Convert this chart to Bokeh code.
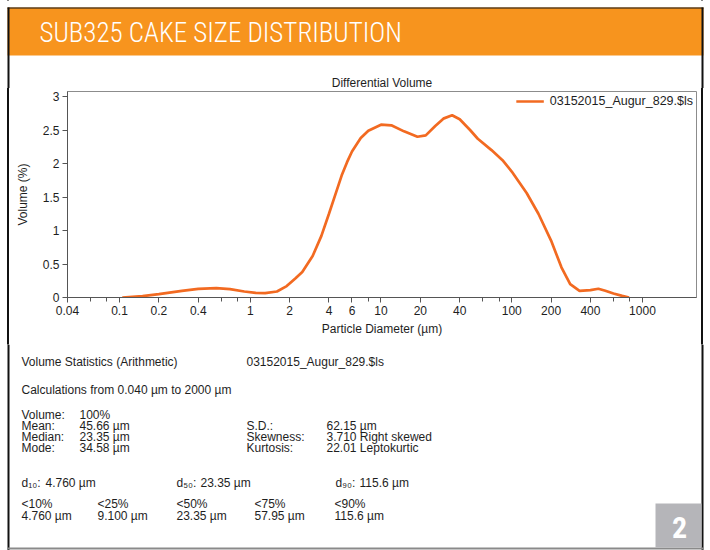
from bokeh.plotting import figure
from bokeh.layouts import column, row
from bokeh.models import Range1d, FixedTicker, Label, Legend
from bokeh.embed import file_html
from bokeh.resources import INLINE

# ---------------- data ----------------
header_title = "SUB325 CAKE SIZE DISTRIBUTION"
chart_title = "Differential Volume"
series_name = "03152015_Augur_829.$ls"
x_label = "Particle Diameter (µm)"
y_label = "Volume (%)"
page_number = "2"

diameter_um = [0.105, 0.15, 0.2, 0.3, 0.4, 0.55, 0.7, 0.9, 1.1, 1.3, 1.6, 1.9, 2.2,
               2.5, 3.0, 3.5, 4.0, 4.5, 5.0, 5.5, 6.0, 7.0, 8.0, 10.0, 12.0, 15.0,
               19.0, 22.0, 26.0, 30.0, 35.0, 40.0, 48.0, 55.0, 70.0, 85.0, 100.0,
               130.0, 160.0, 200.0, 240.0, 280.0, 330.0, 400.0, 460.0, 520.0,
               600.0, 700.0, 790.0]
volume_pct = [0.0, 0.02, 0.05, 0.10, 0.13, 0.14, 0.125, 0.09, 0.07, 0.065, 0.09, 0.17,
              0.28, 0.38, 0.62, 0.92, 1.25, 1.55, 1.82, 2.02, 2.18, 2.38, 2.49, 2.58,
              2.57, 2.48, 2.40, 2.42, 2.56, 2.67, 2.72, 2.66, 2.50, 2.37, 2.20, 2.05,
              1.88, 1.56, 1.25, 0.85, 0.45, 0.20, 0.10, 0.11, 0.13, 0.10, 0.06,
              0.025, 0.0]

x_major_ticks = [0.04, 0.1, 0.2, 0.4, 1, 2, 4, 6, 10, 20, 40, 100, 200, 400, 1000]
x_major_labels = ["0.04", "0.1", "0.2", "0.4", "1", "2", "4", "6", "10", "20", "40",
                  "100", "200", "400", "1000"]
x_minor_ticks = [0.06, 0.08, 0.6, 0.8, 8, 60, 80, 600, 800]
y_ticks = [0, 0.5, 1, 1.5, 2, 2.5, 3]
y_tick_labels = ["0", "0.5", "1", "1.5", "2", "2.5", "3"]

stats_heading = "Volume Statistics (Arithmetic)"
calc_range_text = "Calculations from 0.040 µm to 2000 µm"
left_stat_names = ["Volume:", "Mean:", "Median:", "Mode:"]
left_stat_values = ["100%", "45.66 µm", "23.35 µm", "34.58 µm"]
right_stat_names = ["S.D.:", "Skewness:", "Kurtosis:"]
right_stat_values = ["62.15 µm", "3.710 Right skewed", "22.01 Leptokurtic"]
d_names = ["d₁₀:", "d₅₀:", "d₉₀:"]
d_values = ["4.760 µm", "23.35 µm", "115.6 µm"]
pct_names = ["<10%", "<25%", "<50%", "<75%", "<90%"]
pct_values = ["4.760 µm", "9.100 µm", "23.35 µm", "57.95 µm", "115.6 µm"]

# ---------------- styling ----------------
ORANGE = "#F7941E"
LINE = "#F26A21"
TXT = "#1e1e1e"
BORDER = "#111111"
FONT = "Liberation Sans"
NARROW = "Roboto Condensed Light, Roboto Condensed, Lato Light, Roboto Light, Roboto"
NARROW_BOLD = "Roboto Condensed, Liberation Sans"

W = 710
H_TOP, H_MID, H_BOT = 88, 256, 206          # 88 + 256 + 206 = 550
BL0, BL1, BR0, BR1 = 7, 9, 701, 703          # outer frame lines (page x)
SIDE_LINES = ("linear-gradient(to right, #ffffff 0px, #ffffff 7px, #111111 7px, #111111 9px, "
              "#ffffff 9px, #ffffff 701px, #111111 701px, #111111 703px, #ffffff 703px)")


def panel(w, h):
    f = figure(width=w, height=h, x_range=Range1d(0, w), y_range=Range1d(h, 0),
               output_backend="svg", toolbar_location=None, tools="", min_border=0,
               x_axis_location=None, y_axis_location=None,
               background_fill_color="white", border_fill_color="white",
               outline_line_color=None)
    f.grid.visible = False
    return f


def rect(f, l, r, t, b, color):
    f.quad(left=[l], right=[r], top=[t], bottom=[b], fill_color=color, line_color=None)


def txt(f, x, y, s, size="12px", color=TXT, align="left", font=FONT, style="normal"):
    f.add_layout(Label(x=x, y=y, text=s, text_font=font, text_font_size=size,
                       text_color=color, text_align=align, text_baseline="middle",
                       text_font_style=style))


# ---------------- header ----------------
top = panel(W, H_TOP)
rect(top, BL0, BR1, 7, 55, ORANGE)
rect(top, BL0, BR1, 7, 8, BORDER)
rect(top, BL0, BL1, 7, H_TOP, BORDER)
rect(top, BR0, BR1, 7, H_TOP, BORDER)
txt(top, 39, 32, header_title, size="27px", color="white", font=NARROW)
txt(top, 381.5, 82, chart_title, size="12px", align="center")

# ---------------- chart ----------------
p = figure(width=W, height=H_MID, x_axis_type="log",
           x_range=Range1d(0.04, 2590), y_range=Range1d(0, 3.075),
           output_backend="svg", toolbar_location=None, tools="",
           min_border_left=67, min_border_right=14, min_border_top=3, min_border_bottom=47,
           background_fill_color="white", border_fill_color="white", border_fill_alpha=0,
           styles={"background": SIDE_LINES})
p.outline_line_color = "#8c8c8c"
p.outline_line_width = 1
p.xgrid.visible = False
p.ygrid.visible = False

r = p.line(diameter_um, volume_pct, line_color=LINE, line_width=2.7)

xa = p.xaxis[0]
xa.ticker = FixedTicker(ticks=x_major_ticks, minor_ticks=x_minor_ticks)
xa.major_label_overrides = {t: l for t, l in zip(x_major_ticks, x_major_labels)}
xa.axis_label = x_label
ya = p.yaxis[0]
ya.ticker = FixedTicker(ticks=y_ticks)
ya.major_label_overrides = {t: l for t, l in zip(y_ticks, y_tick_labels)}
ya.axis_label = y_label

for ax in (xa, ya):
    ax.axis_line_color = "#555555"
    ax.major_tick_line_color = "#555555"
    ax.minor_tick_line_color = "#555555"
    ax.major_tick_in = 0
    ax.major_tick_out = 5
    ax.minor_tick_in = 0
    ax.minor_tick_out = 4
    ax.major_label_text_font = FONT
    ax.major_label_text_font_size = "12px"
    ax.major_label_text_color = TXT
    ax.axis_label_text_font = FONT
    ax.axis_label_text_font_size = "12px"
    ax.axis_label_text_font_style = "normal"
    ax.axis_label_text_color = TXT
    ax.major_label_standoff = 3
ya.minor_tick_line_color = None
xa.axis_label_standoff = 4
ya.axis_label_standoff = 10

legend = Legend(items=[(series_name, [r])], location="top_right",
                border_line_color=None, background_fill_alpha=0,
                label_text_font=FONT, label_text_font_size="12.5px",
                label_text_color=TXT, glyph_width=28, glyph_height=12,
                label_standoff=6, padding=3, margin=3, spacing=0, label_height=12)
p.add_layout(legend)

# ---------------- statistics block ----------------
bot = panel(W, H_BOT)
Y0 = H_TOP + H_MID   # page y of this panel's top
rect(bot, BL0, BL1, 0, H_BOT, BORDER)
rect(bot, BR0, BR1, 0, H_BOT, BORDER)
rect(bot, BL0, BR1, 547 - Y0, 549 - Y0, "#8a8a8a")

X0 = 21
txt(bot, X0, 361 - Y0, stats_heading)
txt(bot, 246, 361 - Y0, series_name)
txt(bot, X0, 389 - Y0, calc_range_text)
rows_y = [414, 425.5, 436.5, 447.5]
for yy, n, v in zip(rows_y, left_stat_names, left_stat_values):
    txt(bot, X0, yy - Y0, n)
    txt(bot, 79, yy - Y0, v)
for yy, n, v in zip(rows_y[1:], right_stat_names, right_stat_values):
    txt(bot, 246, yy - Y0, n)
    txt(bot, 326, yy - Y0, v)
d_x = [X0, 176, 335]
for xx, n, v in zip(d_x, d_names, d_values):
    txt(bot, xx, 482 - Y0, n)
    txt(bot, xx + 24, 482 - Y0, v)
pct_x = [X0, 97, 176, 254, 334]
for xx, n, v in zip(pct_x, pct_names, pct_values):
    txt(bot, xx, 503 - Y0, n)
    txt(bot, xx, 515 - Y0, v)

# page number box
rect(bot, 655, BR0, 503 - Y0, 547 - Y0, "#B5B5B9")
txt(bot, 679, 527 - Y0, page_number, size="30px", color="white", align="center",
    font=NARROW_BOLD, style="bold")

# stop the column from aligning the header/statistics frames to the chart's frame
try:
    for f in (top, p, bot):
        f.frame_align = False
    layout = column(top, p, bot, styles={"background": SIDE_LINES})
except AttributeError:
    layout = column(row(top), p, row(bot), styles={"background": SIDE_LINES})

open("out.html", "w").write(file_html(layout, INLINE))
